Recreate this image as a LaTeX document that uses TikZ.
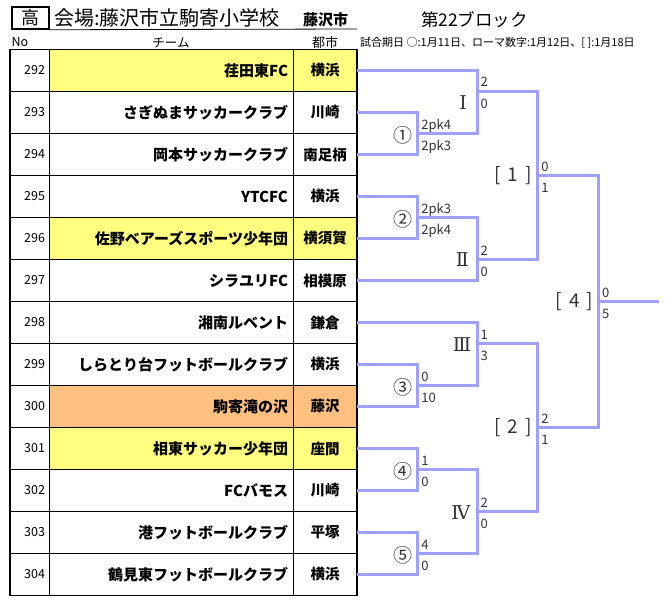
\documentclass[tikz,border=0pt]{standalone}
\usepackage{fontspec}
\setmainfont{Noto Sans CJK JP}
\newfontfamily\romanfont{DejaVu Serif}
\usetikzlibrary{positioning}
\definecolor{hiyellow}{RGB}{255,255,128}
\definecolor{hiorange}{RGB}{255,192,128}
\definecolor{bracketblue}{RGB}{160,160,255}
\definecolor{scoregray}{RGB}{50,50,50}

\begin{document}
\begin{tikzpicture}[x=1pt,y=-1pt,
    nocell/.style={
% The shape:
rectangle, outer sep=0pt,
% The size:
minimum height=42pt, text width=31pt, inner xsep=4pt, align=right,
% The border:
line width=0.8pt, draw,
% The text:
font=\fontsize{12.5}{14}\selectfont,
},
    teamcell/.style={
% The shape:
rectangle, outer sep=0pt,
% The size:
minimum height=42pt, text width=234pt, inner xsep=5pt, align=right,
% The border:
line width=0.8pt, draw,
% The text:
font=\fontsize{15}{17}\selectfont\bfseries,
},
    citycell/.style={
% The shape:
rectangle, outer sep=0pt,
% The size:
minimum height=42pt, text width=60pt, inner xsep=2pt, align=center,
% The border:
line width=0.8pt, draw,
% The text:
font=\fontsize{14.5}{16}\selectfont\bfseries,
},
    bracket/.style={
% The line:
draw=bracketblue, line width=3pt, line join=miter,
},
    score/.style={
% The text:
inner sep=0pt, text=scoregray, font=\fontsize{13}{14}\selectfont,
},
    scoreup/.style={score, anchor=base west, xshift=3.5pt, yshift=4.5pt},
    scoredown/.style={score, anchor=base west, xshift=3.5pt, yshift=-16.5pt},
    roundlabel/.style={
% The text:
inner sep=0pt, text=scoregray, font=\fontsize{19}{20}\selectfont,
},
    romanlabel/.style={
% The text:
inner sep=0pt, text=scoregray, font=\fontsize{19}{20}\selectfont\romanfont,
},
    finallabel/.style={
% The text:
inner sep=0pt, text=scoregray, font=\fontsize{19}{20}\selectfont,
},
]
  \useasboundingbox (0,0) rectangle (667,610);

  % heading
  \node[draw, line width=1.5pt, minimum width=37pt, minimum height=22pt, inner sep=0pt,
        font=\fontsize{18}{19}\selectfont] (kou) at (30.5,18) {高};
  \coordinate (ruleend) at (357,29);
  \draw[line width=0.8pt] (kou.south east) -- (ruleend);
  \node[anchor=west, inner sep=0pt, font=\fontsize{20}{22}\selectfont] (venue) at (54,18) {会場:藤沢市立駒寄小学校};
  \node[inner sep=0pt, font=\fontsize{15}{16}\selectfont\bfseries] (venuecity) at (325.5,20) {藤沢市};
  \node[inner sep=0pt, font=\fontsize{17.5}{18}\selectfont] (block) at (474.5,20) {第22ブロック};
  \node[anchor=west, inner sep=0pt, font=\fontsize{11}{12}\selectfont] (dates) at (360,43) {試合期日\ ○:1月11日、ローマ数字:1月12日、[ ]:1月18日};
  \node[anchor=west, inner sep=0pt, font=\fontsize{12.5}{14}\selectfont] (hno) at (11.5,42.5) {No};
  \node[inner sep=0pt, font=\fontsize{12.5}{14}\selectfont] (hteam) at (171,42.5) {チーム};
  \node[inner sep=0pt, font=\fontsize{13}{14}\selectfont] (hcity) at (325,42.5) {都市};

  % table
  \node[nocell] (n292) at (29.5, 70.5) {292};
  \node[teamcell, fill=hiyellow] (t292) at (171, 70.5) {荏田東FC};
  \node[citycell, fill=hiyellow] (c292) at (325, 70.5) {横浜};
  \node[nocell] (n293) at (29.5, 112.5) {293};
  \node[teamcell] (t293) at (171, 112.5) {さぎぬまサッカークラブ};
  \node[citycell] (c293) at (325, 112.5) {川崎};
  \node[nocell] (n294) at (29.5, 154.5) {294};
  \node[teamcell] (t294) at (171, 154.5) {岡本サッカークラブ};
  \node[citycell] (c294) at (325, 154.5) {南足柄};
  \node[nocell] (n295) at (29.5, 196.5) {295};
  \node[teamcell] (t295) at (171, 196.5) {YTCFC};
  \node[citycell] (c295) at (325, 196.5) {横浜};
  \node[nocell] (n296) at (29.5, 238.5) {296};
  \node[teamcell, fill=hiyellow] (t296) at (171, 238.5) {佐野ベアーズスポーツ少年団};
  \node[citycell, fill=hiyellow] (c296) at (325, 238.5) {横須賀};
  \node[nocell] (n297) at (29.5, 280.5) {297};
  \node[teamcell] (t297) at (171, 280.5) {シラユリFC};
  \node[citycell] (c297) at (325, 280.5) {相模原};
  \node[nocell] (n298) at (29.5, 322.5) {298};
  \node[teamcell] (t298) at (171, 322.5) {湘南ルベント};
  \node[citycell] (c298) at (325, 322.5) {鎌倉};
  \node[nocell] (n299) at (29.5, 364.5) {299};
  \node[teamcell] (t299) at (171, 364.5) {しらとり台フットボールクラブ};
  \node[citycell] (c299) at (325, 364.5) {横浜};
  \node[nocell] (n300) at (29.5, 406.5) {300};
  \node[teamcell, fill=hiorange] (t300) at (171, 406.5) {駒寄滝の沢};
  \node[citycell, fill=hiorange] (c300) at (325, 406.5) {藤沢};
  \node[nocell] (n301) at (29.5, 448.5) {301};
  \node[teamcell, fill=hiyellow] (t301) at (171, 448.5) {相東サッカー少年団};
  \node[citycell, fill=hiyellow] (c301) at (325, 448.5) {座間};
  \node[nocell] (n302) at (29.5, 490.5) {302};
  \node[teamcell] (t302) at (171, 490.5) {FCバモス};
  \node[citycell] (c302) at (325, 490.5) {川崎};
  \node[nocell] (n303) at (29.5, 532.5) {303};
  \node[teamcell] (t303) at (171, 532.5) {港フットボールクラブ};
  \node[citycell] (c303) at (325, 532.5) {平塚};
  \node[nocell] (n304) at (29.5, 574.5) {304};
  \node[teamcell] (t304) at (171, 574.5) {鶴見東フットボールクラブ};
  \node[citycell] (c304) at (325, 574.5) {横浜};
  \draw[line width=1.5pt] (n292.north west) rectangle (c304.south east);

  % bracket points
  \coordinate (m1) at (417.7,133.5);
  \coordinate (m2) at (417.7,217.5);
  \coordinate (m3) at (417.7,385.5);
  \coordinate (m4) at (417.7,469.5);
  \coordinate (m5) at (417.7,553.5);
  \coordinate (rI) at (477,91.5);
  \coordinate (rII) at (477,259.5);
  \coordinate (rIII) at (477,343.5);
  \coordinate (rIV) at (477,511.5);
  \coordinate (f1) at (537.7,175.5);
  \coordinate (f2) at (537.7,427.5);
  \coordinate (f4) at (598.3,301.5);
  \coordinate (champ) at (659,301.5);

  \draw[bracket] (c293.east) -| (m1) |- (c294.east);
  \draw[bracket] (c295.east) -| (m2) |- (c296.east);
  \draw[bracket] (c299.east) -| (m3) |- (c300.east);
  \draw[bracket] (c301.east) -| (m4) |- (c302.east);
  \draw[bracket] (c303.east) -| (m5) |- (c304.east);
  \draw[bracket] (c292.east) -| (rI) |- (m1);
  \draw[bracket] (m2) -| (rII) |- (c297.east);
  \draw[bracket] (c298.east) -| (rIII) |- (m3);
  \draw[bracket] (m4) -| (rIV) |- (m5);
  \draw[bracket] (rI) -| (f1) |- (rII);
  \draw[bracket] (rIII) -| (f2) |- (rIV);
  \draw[bracket] (f1) -| (f4) |- (f2);
  \draw[bracket] (f4) -- (champ);

  % round labels
  \node[roundlabel, left=5pt of m1, yshift=-1.5pt] (l1) {①};
  \node[roundlabel, left=5pt of m2, yshift=-1.5pt] (l2) {②};
  \node[roundlabel, left=5pt of m3, yshift=-1.5pt] (l3) {③};
  \node[roundlabel, left=5pt of m4, yshift=-1.5pt] (l4) {④};
  \node[roundlabel, left=5pt of m5, yshift=-1.5pt] (l5) {⑤};
  \node[romanlabel, left=10pt of rI, yshift=-11.5pt] (lI) {Ⅰ};
  \node[romanlabel, left=8pt of rII] (lII) {Ⅱ};
  \node[romanlabel, left=5.5pt of rIII, yshift=-1pt] (lIII) {Ⅲ};
  \node[romanlabel, left=6.5pt of rIV, yshift=-1pt] (lIV) {Ⅳ};
  \node[finallabel, left=6pt of f1] (lf1) {[\hspace{7pt}1\hspace{7pt}]};
  \node[finallabel, left=6pt of f2] (lf2) {[\hspace{7pt}2\hspace{7pt}]};
  \node[finallabel, left=5pt of f4] (lf4) {[\hspace{7pt}4\hspace{7pt}]};

  % scores
  \node[scoreup] (s1a) at (m1) {2pk4};
  \node[scoredown] (s1b) at (m1) {2pk3};
  \node[scoreup] (s2a) at (m2) {2pk3};
  \node[scoredown] (s2b) at (m2) {2pk4};
  \node[scoreup] (s3a) at (m3) {0};
  \node[scoredown] (s3b) at (m3) {10};
  \node[scoreup] (s4a) at (m4) {1};
  \node[scoredown] (s4b) at (m4) {0};
  \node[scoreup] (s5a) at (m5) {4};
  \node[scoredown] (s5b) at (m5) {0};
  \node[scoreup] (sIa) at (rI) {2};
  \node[scoredown] (sIb) at (rI) {0};
  \node[scoreup] (sIIa) at (rII) {2};
  \node[scoredown] (sIIb) at (rII) {0};
  \node[scoreup] (sIIIa) at (rIII) {1};
  \node[scoredown] (sIIIb) at (rIII) {3};
  \node[scoreup] (sIVa) at (rIV) {2};
  \node[scoredown] (sIVb) at (rIV) {0};
  \node[scoreup] (sf1a) at (f1) {0};
  \node[scoredown] (sf1b) at (f1) {1};
  \node[scoreup] (sf2a) at (f2) {2};
  \node[scoredown] (sf2b) at (f2) {1};
  \node[scoreup] (sf4a) at (f4) {0};
  \node[scoredown] (sf4b) at (f4) {5};

\end{tikzpicture}
\end{document}
